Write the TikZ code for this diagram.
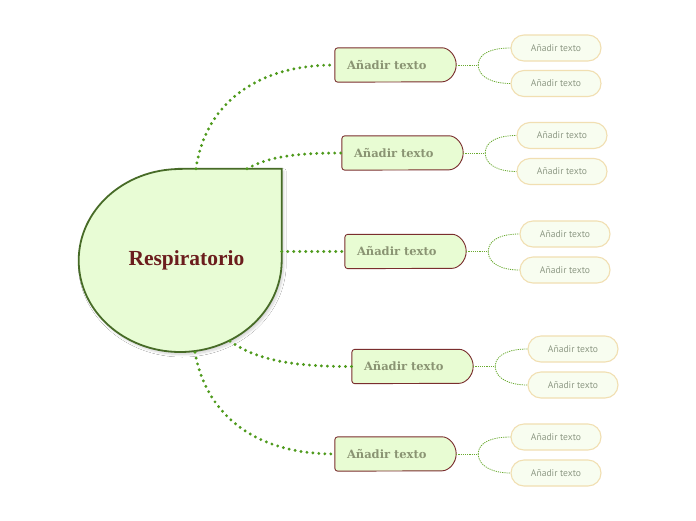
\documentclass[tikz,border=0pt]{standalone}
\usepackage{fontspec}
\usetikzlibrary{backgrounds,shadows.blur,calc}
\newfontfamily\titlefont{Liberation Serif}
\newfontfamily\branchfont{DejaVu Serif}
\newfontfamily\leaffont{PT Sans}
\definecolor{mainfill}{HTML}{E8FCD5}
\definecolor{mainborder}{HTML}{476B27}
\definecolor{titlered}{HTML}{6B1D1D}
\definecolor{branchfill}{HTML}{E8FCD3}
\definecolor{branchborder}{HTML}{7A2E2E}
\definecolor{branchtext}{HTML}{8A9473}
\definecolor{leaffill}{HTML}{F8FDF0}
\definecolor{leafborder}{HTML}{F1DFB2}
\definecolor{leaftext}{HTML}{8E9985}
\definecolor{linkgreen}{HTML}{4E9A1C}
\definecolor{thingreen}{HTML}{6AAA30}
\tikzset{
  mainbox/.style={rectangle, minimum width=203pt, minimum height=183pt, inner xsep=50pt, inner ysep=0pt,
    text width=103pt, align=left, font=\titlefont\bfseries\fontsize{21.5}{24}\selectfont, text=titlered},
  mainshape/.style={fill=mainfill, draw=mainborder, line width=1.8pt,
    blur shadow={shadow xshift=2pt, shadow yshift=-2.5pt, shadow blur radius=2.5pt, shadow blur steps=8, shadow opacity=18}},
  branchbox/.style={rectangle, minimum height=34pt, inner xsep=12pt, inner ysep=0pt, text width=97pt,
    align=left, font=\branchfont\bfseries\fontsize{11.5}{13}\selectfont, text=branchtext},
  branchshape/.style={fill=branchfill, draw=branchborder, line width=0.9pt, rounded corners=3pt},
  leafbox/.style={rectangle, rounded corners=13pt, minimum width=90pt, minimum height=26pt, inner sep=0pt,
    fill=leaffill, draw=leafborder, line width=1.1pt, font=\leaffont\fontsize{9.6}{11}\selectfont, text=leaftext},
  mainlink/.style={draw=linkgreen, line width=3.2pt, line cap=round, dash pattern=on 0pt off 6pt},
  thinlink/.style={draw=thingreen, line width=0.8pt, dash pattern=on 1.2pt off 1pt}
}
\begin{document}
\begin{tikzpicture}[x=1pt,y=-1pt]
\useasboundingbox (0,0) rectangle (696,520);
% nodes
\node[mainbox] (main) at (180,260.5) {Respiratorio};
\node[branchbox] (b1) at (395.5,65) {Añadir texto};
\node[branchbox] (b2) at (402.5,153) {Añadir texto};
\node[branchbox] (b3) at (405.5,251.5) {Añadir texto};
\node[branchbox] (b4) at (412.5,366.5) {Añadir texto};
\node[branchbox] (b5) at (395.5,454) {Añadir texto};
\node[leafbox] (l1a) at (556,48) {Añadir texto};
\node[leafbox] (l1b) at (556,83.5) {Añadir texto};
\node[leafbox] (l2a) at (562,135.5) {Añadir texto};
\node[leafbox] (l2b) at (562,171.5) {Añadir texto};
\node[leafbox] (l3a) at (565,234) {Añadir texto};
\node[leafbox] (l3b) at (565,270) {Añadir texto};
\node[leafbox] (l4a) at (573,349) {Añadir texto};
\node[leafbox] (l4b) at (573,385) {Añadir texto};
\node[leafbox] (l5a) at (556,437) {Añadir texto};
\node[leafbox] (l5b) at (556,473) {Añadir texto};
% shapes behind the texts
\begin{scope}[on background layer]
  \fill[white] (0,0) rectangle (696,520);
  \path[mainshape] (main.north) -- (main.north east) -- (main.east)
     arc[start angle=0, end angle=-270, x radius=101.5pt, y radius=91.5pt] -- cycle;
  \foreach \b in {b1,b2,b3,b4,b5}{
    \path[branchshape] (\b.north west) -- ([xshift=-17pt]\b.north east)
      arc[start angle=90, end angle=-90, radius=17pt] -- (\b.south west) -- cycle;
  }
\end{scope}
% connection points on the main shape
\coordinate (m1) at ([xshift=16pt]main.north);
\coordinate (m2) at ([xshift=67pt]main.north);
\coordinate (m3) at ([yshift=9pt]main.east);
\coordinate (m4) at ([xshift=50pt,yshift=11pt]main.south);
\coordinate (m5) at ([xshift=15pt]main.south);
% main connectors
\draw[mainlink] (m1) .. controls +(8,-59) and +(-85,0) .. (b1.west);
\draw[mainlink] (m2) .. controls +(23,-13) and +(-42,0) .. (b2.west);
\draw[mainlink] (m3) -- (b3.west);
\draw[mainlink] (m4) .. controls +(30,21) and +(-52,0) .. (b4.west);
\draw[mainlink] (m5) .. controls +(10,58) and +(-85,0) .. (b5.west);
% leaf connectors
\foreach \i in {1,...,5}{
  \coordinate (j\i) at ([xshift=22pt]b\i.east);
  \draw[thinlink] (b\i.east) -- (j\i);
  \draw[thinlink] (j\i) .. controls +(0,-12) and +(-18,0) .. (l\i a.west);
  \draw[thinlink] (j\i) .. controls +(0,12) and +(-18,0) .. (l\i b.west);
}
\end{tikzpicture}
\end{document}
